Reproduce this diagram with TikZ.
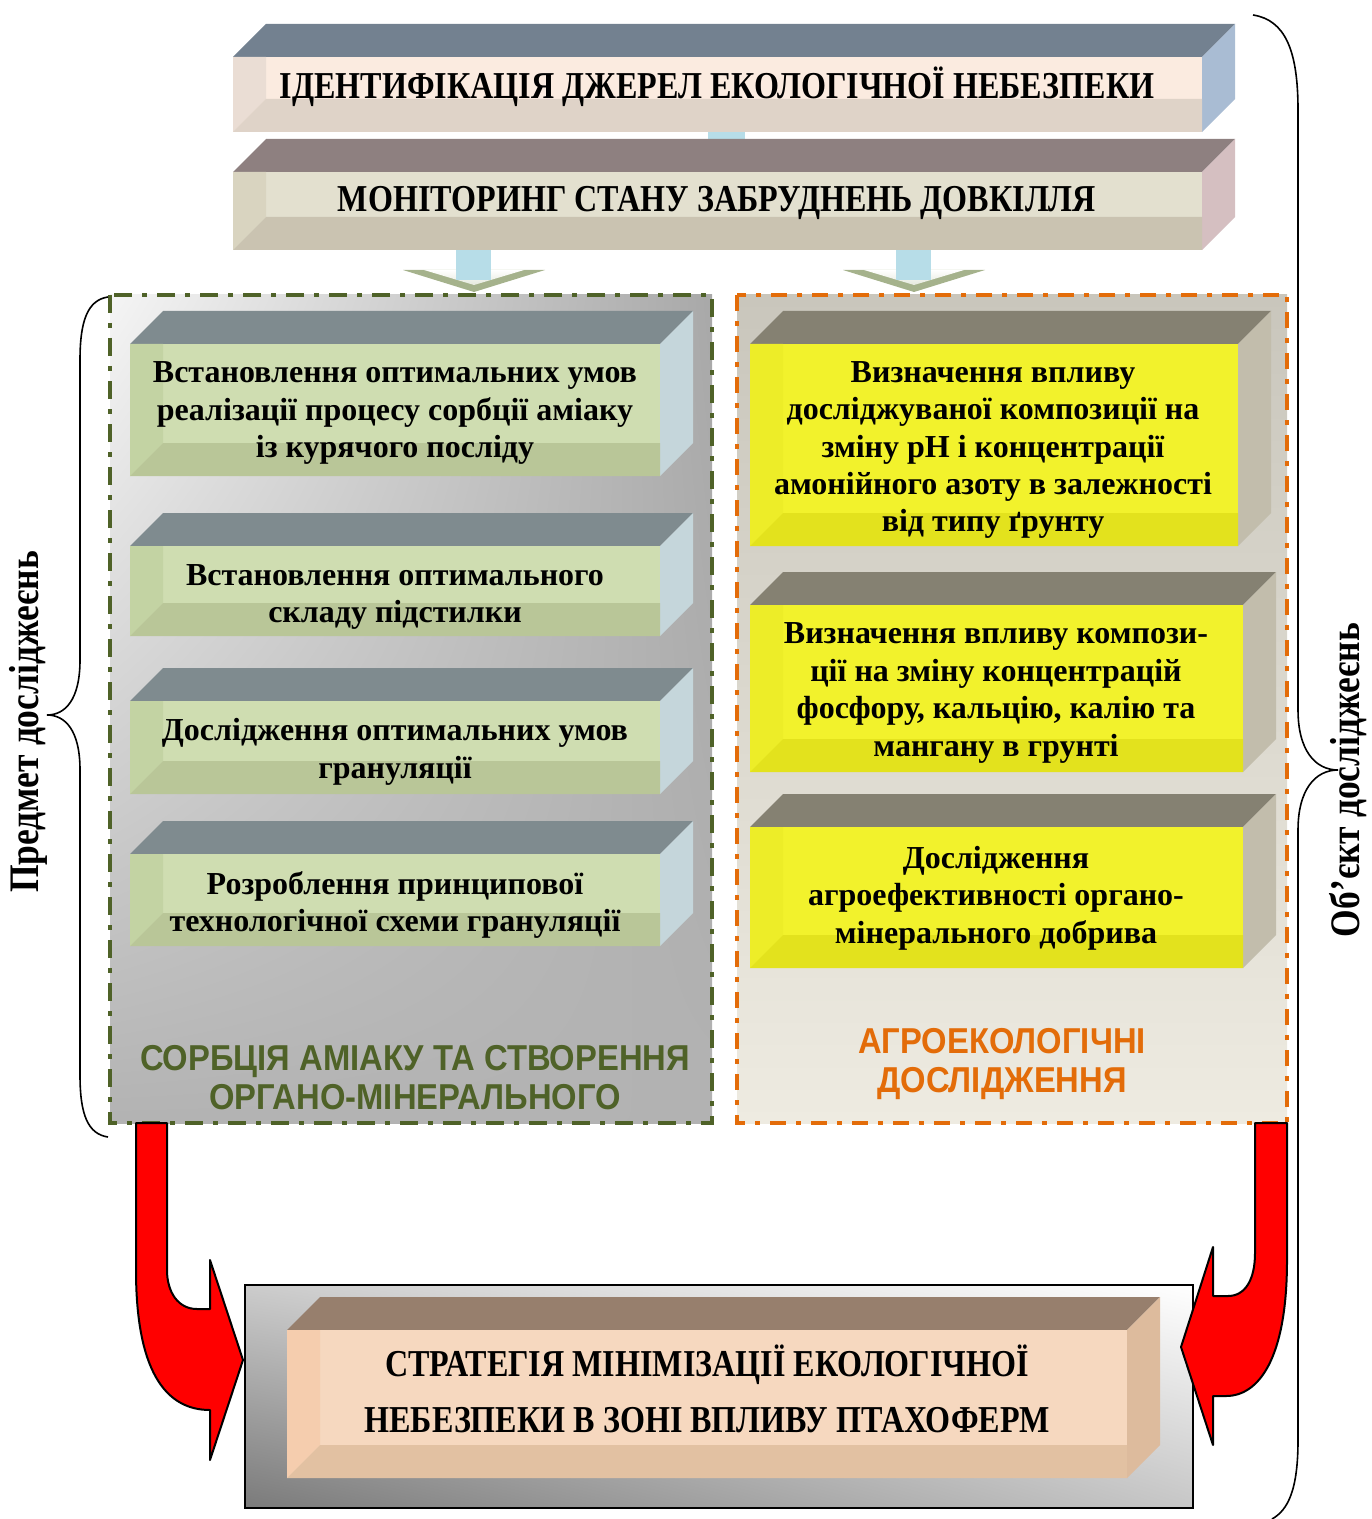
\documentclass[tikz,border=0pt]{standalone}
\usepackage{fontspec}
\setmainfont{Liberation Serif}
\newfontfamily\capfont[FakeStretch=0.845]{Liberation Serif}
\newfontfamily\panelfont[FakeStretch=0.91]{Liberation Sans}
\usepackage{tikz}
\usetikzlibrary{positioning, shadings}

% colours of the cube faces
\definecolor{idTop}{HTML}{738190}\definecolor{idSide}{HTML}{A9BCD3}
\definecolor{idFront}{HTML}{FBEBE0}\definecolor{idBand}{HTML}{DFD3C8}\definecolor{idLeft}{HTML}{EADDD4}
\definecolor{monTop}{HTML}{8E8080}\definecolor{monSide}{HTML}{D5BFC1}
\definecolor{monFront}{HTML}{E3E0CF}\definecolor{monBand}{HTML}{CAC3B1}\definecolor{monLeft}{HTML}{D9D4C0}
\definecolor{grTop}{HTML}{7F8B8F}\definecolor{grSide}{HTML}{C5D6DB}
\definecolor{grFront}{HTML}{CFDDB1}\definecolor{grBand}{HTML}{B9C698}\definecolor{grLeft}{HTML}{C3D3A3}
\definecolor{yeTop}{HTML}{858172}\definecolor{yeSide}{HTML}{C2BDAC}
\definecolor{yeFront}{HTML}{F2F22C}\definecolor{yeBand}{HTML}{E3E21D}\definecolor{yeLeft}{HTML}{EDED28}
\definecolor{stTop}{HTML}{977F6D}\definecolor{stSide}{HTML}{DDBB9D}
\definecolor{stFront}{HTML}{F6D8BF}\definecolor{stBand}{HTML}{E2C1A2}\definecolor{stLeft}{HTML}{F5CDAE}
\definecolor{olive}{HTML}{4F6228}
\definecolor{agroOrange}{HTML}{E36C09}
\definecolor{stemBlue}{HTML}{B7DDE8}
\definecolor{sage}{HTML}{A5B28C}
\definecolor{agroTop}{HTML}{C9C6BC}
\definecolor{agroBottom}{HTML}{EEEBE1}

% cube: x1, y1, x2, y2 of the front face, colour set
\newcommand{\cubebox}[5]{%
  \fill[#5Top] (#1,#2) -- (#1+33,#2-33) -- (#3+33,#2-33) -- (#3,#2) -- cycle;
  \fill[#5Side] (#3,#2) -- (#3+33,#2-33) -- (#3+33,#4-33) -- (#3,#4) -- cycle;
  \fill[#5Front] (#1,#2) rectangle (#3,#4);
  \fill[#5Left] (#1,#2) -- (#1+33,#2) -- (#1+33,#4-33) -- (#1,#4) -- cycle;
  \fill[#5Band] (#1,#4) -- (#1+33,#4-33) -- (#3,#4-33) -- (#3,#4) -- cycle;
}

% down arrow under the monitoring box
\newcommand{\flowarrow}[1]{%
  \fill[sage] (#1-71,270) -- (#1+71,270) -- (#1,292) -- cycle;
  \shade[top color=white, bottom color=white!70!sage] (#1-50,270) -- (#1+50,270) -- (#1,285) -- cycle;
  \fill[stemBlue] (#1-18,250) rectangle (#1+17,280);
}

\begin{document}
\begin{tikzpicture}[x=0.5pt, y=-0.5pt,
  boxtext/.style={align=center, inner sep=0pt, font=\fontsize{16}{18.7}\selectfont\bfseries},
  captext/.style={align=center, inner sep=0pt, font=\capfont\fontsize{19}{22}\selectfont\bfseries},
  paneltitle/.style={align=center, inner sep=0pt, font=\panelfont\fontsize{18}{19.5}\selectfont\bfseries},
  bracetext/.style={rotate=90, inner sep=0pt, font=\capfont\fontsize{21}{23}\selectfont\bfseries},
  redarrow/.style={fill=red, draw=black, line width=1pt, line join=round},
  brace/.style={draw=black, line width=0.8pt}
]
  \useasboundingbox (0,0) rectangle (1371,1519);

  % panels
  \shade[upper left=white!96!black, upper right=black!34, lower left=black!30, lower right=black!30]
    (110,295) rectangle (712,1123);
  \draw[olive, line width=2pt, dash pattern=on 9pt off 5pt on 2.5pt off 5pt] (110,295) rectangle (712,1123);
  \shade[top color=agroTop, bottom color=agroBottom]
    (737,295) rectangle (1287,1123);
  \draw[agroOrange, line width=2pt, dash pattern=on 8pt off 5pt on 2.5pt off 5pt] (737,295) rectangle (1287,1123);

  % top boxes
  \fill[stemBlue] (708,130) rectangle (745,141);
  \cubebox{233}{57}{1202}{132}{id}
  \node[captext] (ident) at (717,87) {ІДЕНТИФІКАЦІЯ ДЖЕРЕЛ ЕКОЛОГІЧНОЇ НЕБЕЗПЕКИ};
  \cubebox{233}{172}{1202}{250}{mon}
  \node[captext] (monit) at (717,203) {МОНІТОРИНГ СТАНУ ЗАБРУДНЕНЬ ДОВКІЛЛЯ};
  \flowarrow{474}
  \flowarrow{914}

  % left column
  \cubebox{130}{344}{660}{476}{gr}
  \node[boxtext] (sorbA) at (395,413) {Встановлення оптимальних умов\\реалізації процесу сорбції аміаку\\із курячого посліду};
  \cubebox{130}{546}{660}{636}{gr}
  \node[boxtext] (sorbB) at (395,597) {Встановлення оптимального\\складу підстилки};
  \cubebox{130}{701}{660}{794}{gr}
  \node[boxtext] (sorbC) at (395,752) {Дослідження оптимальних умов\\грануляції};
  \cubebox{130}{854}{660}{946}{gr}
  \node[boxtext] (sorbD) at (395,905) {Розроблення принципової\\технологічної схеми грануляції};
  \node[paneltitle, olive] (sorbTitle) at (415,1078) {СОРБЦІЯ АМІАКУ ТА СТВОРЕННЯ\\ОРГАНО-МІНЕРАЛЬНОГО};

  % right column
  \cubebox{750}{344}{1238}{546}{ye}
  \node[boxtext] (agroA) at (993,450) {Визначення впливу\\досліджуваної композиції на\\зміну рН і концентрації\\амонійного азоту в залежності\\від типу ґрунту};
  \cubebox{750}{605}{1243}{772}{ye}
  \node[boxtext] (agroB) at (996,693) {Визначення впливу компози-\\ції на зміну концентрацій\\фосфору, кальцію, калію та\\мангану в грунті};
  \cubebox{750}{827}{1243}{968}{ye}
  \node[boxtext] (agroC) at (996,898) {Дослідження\\агроефективності органо-\\мінерального добрива};
  \node[paneltitle, agroOrange] (agroTitle) at (1002,1064) {АГРОЕКОЛОГІЧНІ\\ДОСЛІДЖЕННЯ};

  % strategy
  \shade[upper left=black!20, upper right=white, lower left=black!52, lower right=black!22]
    (245,1285) rectangle (1193,1508);
  \draw[line width=1pt] (245,1285) rectangle (1193,1508);
  \cubebox{287}{1330}{1127}{1478}{st}
  \node[captext, font=\capfont\fontsize{19}{28}\selectfont\bfseries] (strat) at (707,1389)
    {СТРАТЕГІЯ МІНІМІЗАЦІЇ ЕКОЛОГІЧНОЇ\\НЕБЕЗПЕКИ В ЗОНІ ВПЛИВУ ПТАХОФЕРМ};

  % red arrows
  \draw[redarrow] (136,1123) -- (136,1270) .. controls (136,1370) and (165,1410) .. (210,1410)
    -- (210,1460) -- (243,1360) -- (210,1260) -- (210,1309) -- (197,1309)
    .. controls (178,1309) and (167,1292) .. (167,1270) -- (167,1123) -- cycle;
  \draw[redarrow] (1287,1123) -- (1287,1260) .. controls (1287,1360) and (1258,1396) .. (1226,1396)
    -- (1213,1396) -- (1213,1445) -- (1181,1347) -- (1213,1247) -- (1213,1296) -- (1228,1296)
    .. controls (1245,1296) and (1255,1280) .. (1255,1253) -- (1255,1123) -- cycle;

  % braces
  \draw[brace] (108,297) .. controls (88,300) and (80,320) .. (80,360) -- (80,660)
    .. controls (80,700) and (65,715) .. (47,715) .. controls (65,715) and (80,730) .. (80,770)
    -- (80,1075) .. controls (80,1115) and (88,1134) .. (108,1137);
  \node[bracetext] (subject) at (28,722) {Предмет досліджеєнь};
  \draw[brace] (1253,15) .. controls (1285,20) and (1298,50) .. (1298,110) -- (1298,710)
    .. controls (1298,750) and (1315,770) .. (1338,770) .. controls (1315,770) and (1298,790) .. (1298,830)
    -- (1298,1440) .. controls (1298,1490) and (1288,1510) .. (1272,1519);
  \node[bracetext] (object) at (1348,780) {Об’єкт досліджеєнь};
\end{tikzpicture}
\end{document}
